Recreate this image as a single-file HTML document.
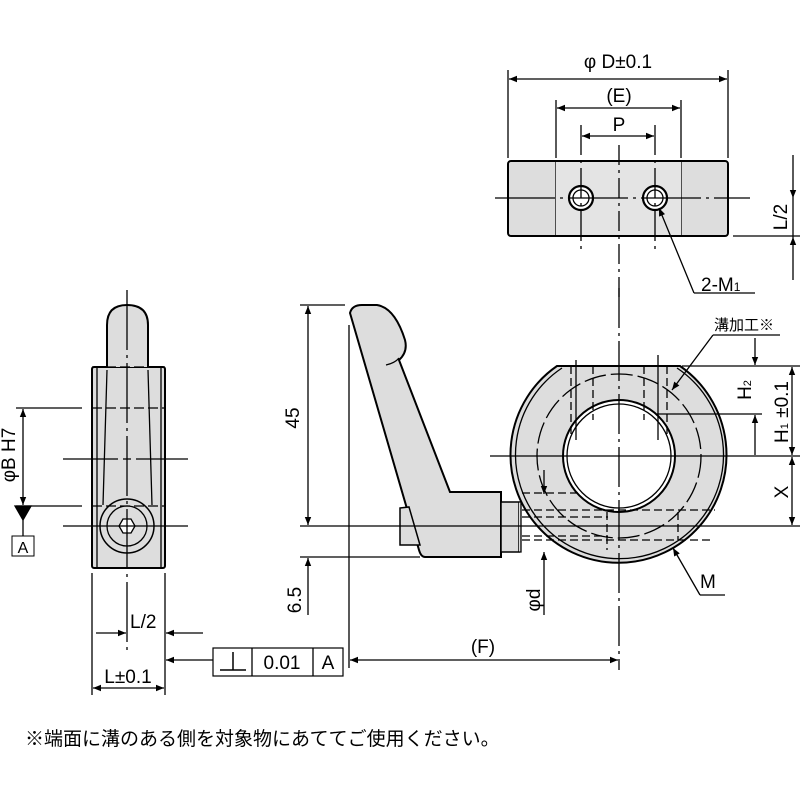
<!DOCTYPE html>
<html><head><meta charset="utf-8"><style>
html,body{margin:0;padding:0;background:#fff}
svg{display:block}
text{font-family:"Liberation Sans","Noto Sans CJK JP",sans-serif;fill:#000}
</style></head><body>
<svg width="800" height="800" viewBox="0 0 800 800" xmlns="http://www.w3.org/2000/svg">
<defs>
<marker id="a" viewBox="0 0 10 10" refX="10" refY="5" markerWidth="16" markerHeight="8" markerUnits="userSpaceOnUse" orient="auto-start-reverse"><path d="M0,1L10,5L0,9z" fill="#000"/></marker>
</defs>
<g stroke="#000" stroke-width="1.3" fill="none">
<!-- TOP VIEW -->
<rect x="508" y="161" width="220" height="75" rx="3" fill="#ddd" stroke-width="2"/>
<line x1="556" y1="161" x2="556" y2="236"/><line x1="681" y1="161" x2="681" y2="236"/>
<rect x="556" y="162" width="125" height="73" fill="#e4e4e4" stroke="none"/>
<circle cx="581" cy="198" r="12" fill="#fff" stroke-width="2.2"/><circle cx="581" cy="198" r="8"/>
<circle cx="655" cy="198" r="12" fill="#fff" stroke-width="2.2"/><circle cx="655" cy="198" r="8"/>
<line x1="495" y1="198" x2="750" y2="198" stroke-dasharray="60,5,3,5"/>
<line x1="581" y1="125" x2="581" y2="252" stroke-dasharray="30,5,3,5"/>
<line x1="655" y1="125" x2="655" y2="252" stroke-dasharray="30,5,3,5"/>
<line x1="619" y1="145" x2="619" y2="300" stroke-dasharray="20,5,3,5"/>
<line x1="508" y1="70" x2="508" y2="158"/><line x1="728" y1="70" x2="728" y2="158"/>
<line x1="509" y1="79" x2="727" y2="79" marker-start="url(#a)" marker-end="url(#a)"/>
<line x1="556" y1="100" x2="556" y2="158"/><line x1="681" y1="100" x2="681" y2="158"/>
<line x1="557" y1="108" x2="680" y2="108" marker-start="url(#a)" marker-end="url(#a)"/>
<line x1="582" y1="136" x2="654" y2="136" marker-start="url(#a)" marker-end="url(#a)"/>
<line x1="733" y1="236" x2="800" y2="236"/>
<line x1="793" y1="155" x2="793" y2="198" marker-end="url(#a)"/>
<line x1="793" y1="280" x2="793" y2="237" marker-end="url(#a)"/>
<line x1="793" y1="198" x2="793" y2="237"/>
<line x1="659" y1="208" x2="694" y2="293" marker-start="url(#a)"/>
<line x1="694" y1="293" x2="755" y2="293"/>

<!-- FRONT VIEW -->
<path d="M557,366 L680,366 A108,108 0 1 1 557,366 Z" fill="#ddd" stroke-width="2"/>
<path d="M562,368 A104,104 0 1 0 677,368" />
<circle cx="619" cy="456" r="82" stroke-dasharray="22,5"/>
<circle cx="619" cy="456" r="56" fill="#fff" stroke-width="2"/>
<circle cx="619" cy="456" r="52"/>
<line x1="619" y1="288" x2="619" y2="670" stroke-dasharray="40,5,3,5"/>
<g stroke-dasharray="8,4">
<line x1="571" y1="366" x2="571" y2="435"/><line x1="593" y1="366" x2="593" y2="420"/>
<line x1="644" y1="366" x2="644" y2="420"/><line x1="667" y1="366" x2="667" y2="435"/>
<line x1="522" y1="493" x2="580" y2="493"/>
<line x1="522" y1="510" x2="715" y2="510"/><line x1="522" y1="540" x2="710" y2="540"/>
<line x1="522" y1="517" x2="608" y2="517"/><line x1="522" y1="536" x2="608" y2="536"/>
<line x1="607" y1="512" x2="607" y2="550"/><line x1="678" y1="512" x2="678" y2="540"/>
</g>
<line x1="576" y1="360" x2="576" y2="440"/><line x1="658" y1="355" x2="658" y2="440"/>
<line x1="490" y1="456" x2="800" y2="456"/>
<!-- lever -->
<path d="M350,313 Q352,305 362,305 L377,305 Q395,308 405,340 Q408,352 399,360 L450,492 L501,492 L501,557 L425,557 Q421,557 419,550 Z" fill="#ddd" stroke-width="2"/>
<path d="M386,365 Q395,363 399,358"/>
<rect x="501" y="502" width="18" height="50" fill="#ddd" stroke-width="1.5"/>
<path d="M519,502 L521,502 L521,552 L519,552" fill="#ddd"/>
<path d="M400,508 L409,507 L420,545 L400,545 Z" fill="#ddd" stroke-width="1.5"/>
<line x1="300" y1="526" x2="800" y2="526"/>
<line x1="300" y1="305" x2="345" y2="305"/>
<line x1="300" y1="557" x2="420" y2="557"/>
<line x1="308" y1="306" x2="308" y2="525" marker-start="url(#a)" marker-end="url(#a)"/>
<line x1="308" y1="558" x2="308" y2="615" marker-start="url(#a)"/>
<line x1="349" y1="325" x2="349" y2="668"/>
<line x1="350" y1="660" x2="618" y2="660" marker-start="url(#a)" marker-end="url(#a)"/>
<!-- phi d -->
<line x1="544" y1="470" x2="544" y2="494" marker-end="url(#a)"/>
<line x1="544" y1="615" x2="544" y2="552" marker-end="url(#a)"/>
<!-- right dims -->
<line x1="682" y1="366" x2="800" y2="366"/>
<line x1="657" y1="414" x2="762" y2="414"/>
<line x1="792" y1="367" x2="792" y2="455" marker-start="url(#a)" marker-end="url(#a)"/>
<line x1="792" y1="457" x2="792" y2="525" marker-start="url(#a)" marker-end="url(#a)"/>
<line x1="755" y1="338" x2="755" y2="365" marker-end="url(#a)"/>
<line x1="755" y1="455" x2="755" y2="415" marker-end="url(#a)"/>
<line x1="713" y1="335" x2="780" y2="335"/>
<line x1="713" y1="335" x2="672" y2="390" marker-end="url(#a)"/>
<line x1="673" y1="548" x2="700" y2="595" marker-start="url(#a)"/>
<line x1="700" y1="595" x2="725" y2="595"/>

<!-- SIDE VIEW -->
<rect x="92" y="367" width="73" height="201" rx="2" fill="#ddd" stroke-width="2"/>
<line x1="97" y1="368" x2="97" y2="567"/><line x1="161" y1="368" x2="161" y2="567"/>
<path d="M107,367 L107,325 Q107,305 127,305 Q148,305 148,325 L148,367" fill="#ddd" stroke-width="2"/>
<path d="M107,370 L103,505 M148,370 L152,505" />
<circle cx="127" cy="526" r="27" fill="#ddd" stroke-width="1.5"/>
<circle cx="127" cy="526" r="20"/>
<path d="M135,526 L131,533 L123,533 L119,526 L123,519 L131,519 Z" fill="#fff"/>
<g stroke-dasharray="10,4"><line x1="92" y1="367" x2="165" y2="367"/><line x1="92" y1="408" x2="165" y2="408"/><line x1="92" y1="506" x2="165" y2="506"/></g>
<line x1="127" y1="290" x2="127" y2="650" stroke-dasharray="60,5,3,5"/>
<line x1="63" y1="459" x2="188" y2="459" stroke-dasharray="55,5,8,5"/>
<line x1="63" y1="526" x2="188" y2="526"/>
<line x1="16" y1="408" x2="82" y2="408"/><line x1="16" y1="506" x2="82" y2="506"/>
<line x1="23" y1="409" x2="23" y2="505" marker-start="url(#a)" marker-end="url(#a)"/>
<path d="M15,506 L31,506 L23,520 Z" fill="#000"/>
<line x1="23" y1="520" x2="23" y2="536"/>
<rect x="12" y="536" width="22" height="20" stroke-width="1"/>
<line x1="92" y1="573" x2="92" y2="695"/><line x1="165" y1="573" x2="165" y2="695"/>
<line x1="96" y1="633" x2="126" y2="633" marker-end="url(#a)"/>
<line x1="203" y1="633" x2="166" y2="633" marker-end="url(#a)"/>
<line x1="93" y1="688" x2="164" y2="688" marker-start="url(#a)" marker-end="url(#a)"/>
<line x1="213" y1="660" x2="166" y2="660" marker-end="url(#a)"/>
<rect x="213" y="648" width="130" height="28" stroke-width="1.2"/>
<line x1="252" y1="648" x2="252" y2="676"/><line x1="313" y1="648" x2="313" y2="676"/>
<line x1="220" y1="670" x2="246" y2="670" stroke-width="1.5"/><line x1="233" y1="652" x2="233" y2="670" stroke-width="1.5"/>
</g>
<g font-size="19">
<text x="618" y="68" text-anchor="middle">φ D±0.1</text>
<text x="619" y="102" text-anchor="middle">(E)</text>
<text x="619" y="131" text-anchor="middle">P</text>
<text transform="translate(787,217) rotate(-90)" text-anchor="middle">L/2</text>
<text x="701" y="291">2-M<tspan font-size="12">1</tspan></text>
<text x="714" y="330" font-size="15">溝加工※</text>
<text transform="translate(751,390) rotate(-90)" text-anchor="middle">H<tspan font-size="11">2</tspan></text>
<text transform="translate(788,412) rotate(-90)" text-anchor="middle">H<tspan font-size="11">1</tspan> ±0.1</text>
<text transform="translate(788,492) rotate(-90)" text-anchor="middle">X</text>
<text x="700" y="588">M</text>
<text transform="translate(540,600) rotate(-90)" text-anchor="middle">φd</text>
<text transform="translate(299,418) rotate(-90)" text-anchor="middle">45</text>
<text transform="translate(301,600) rotate(-90)" text-anchor="middle">6.5</text>
<text x="483" y="653" text-anchor="middle">(F)</text>
<text transform="translate(15,455) rotate(-90)" text-anchor="middle">φB H7</text>
<text x="23" y="553" text-anchor="middle" font-size="16">A</text>
<text x="130" y="628">L/2</text>
<text x="128" y="683" text-anchor="middle">L±0.1</text>
<text x="282" y="669" text-anchor="middle">0.01</text>
<text x="328" y="669" text-anchor="middle">A</text>
<text x="25" y="745" font-size="19">※端面に溝のある側を対象物にあててご使用ください。</text>
</g>
</svg>
</body></html>
